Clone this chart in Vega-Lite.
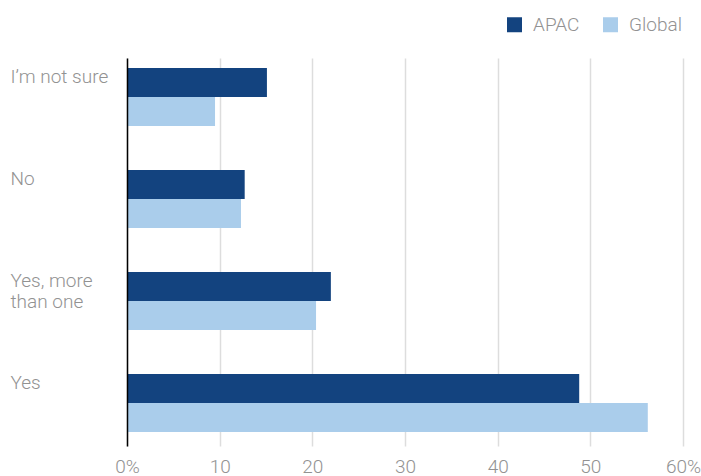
{
  "$schema": "https://vega.github.io/schema/vega-lite/v6.json",
  "width": 556,
  "height": 388,
  "autosize": {"type": "none"},
  "padding": {"left": 127, "top": 58, "right": 18, "bottom": 30},
  "background": "white",
  "config": {"view": {"stroke": null}, "font": "Roboto"},
  "data": {
    "values": [
      {"answer": "I’m not sure", "region": "APAC", "value": 15.1},
      {"answer": "I’m not sure", "region": "Global", "value": 9.5},
      {"answer": "No", "region": "APAC", "value": 12.7},
      {"answer": "No", "region": "Global", "value": 12.3},
      {"answer": "Yes, more than one", "region": "APAC", "value": 22.0},
      {"answer": "Yes, more than one", "region": "Global", "value": 20.4},
      {"answer": "Yes", "region": "APAC", "value": 48.8},
      {"answer": "Yes", "region": "Global", "value": 56.2}
    ]
  },
  "mark": {"type": "bar"},
  "encoding": {
    "y": {
      "field": "answer",
      "type": "nominal",
      "sort": ["I’m not sure", "No", "Yes, more than one", "Yes"],
      "scale": {"paddingInner": 0.431, "paddingOuter": 0.1176, "align": 0.417},
      "axis": {
        "title": null,
        "zindex": 1,
        "domain": true,
        "domainColor": "#000000",
        "domainWidth": 1.5,
        "ticks": false,
        "tickSize": 0,
        "grid": false,
        "labelAlign": "left",
        "labelBaseline": "top",
        "labelPadding": 117,
        "labelOffset": -29,
        "labelFontSize": 19,
        "labelFontWeight": 300,
        "labelColor": "#929292",
        "labelLineHeight": 21,
        "labelExpr": "datum.label == 'Yes, more than one' ? ['Yes, more', 'than one'] : datum.label"
      }
    },
    "yOffset": {
      "field": "region",
      "type": "nominal",
      "sort": ["APAC", "Global"],
      "scale": {"paddingInner": 0, "paddingOuter": 0}
    },
    "x": {
      "field": "value",
      "type": "quantitative",
      "scale": {"domain": [0, 60], "nice": false},
      "axis": {
        "title": null,
        "zindex": 0,
        "values": [0, 10, 20, 30, 40, 50, 60],
        "domain": false,
        "ticks": false,
        "grid": true,
        "gridColor": "#dddddd",
        "gridWidth": 1.5,
        "labelFlush": false,
        "labelPadding": 11,
        "labelBaseline": "top",
        "labelFontSize": 19,
        "labelFontWeight": 300,
        "labelColor": "#929292",
        "labelExpr": "datum.value == 0 || datum.value == 60 ? datum.value + '%' : datum.value + ''"
      }
    },
    "color": {
      "field": "region",
      "type": "nominal",
      "sort": ["APAC", "Global"],
      "scale": {"domain": ["APAC", "Global"], "range": ["#13437f", "#aacdeb"]},
      "legend": {
        "title": null,
        "orient": "none",
        "direction": "horizontal",
        "legendX": 378,
        "legendY": -43,
        "symbolType": "square",
        "symbolSize": 225,
        "symbolStrokeWidth": 0,
        "labelFontSize": 19,
        "labelFontWeight": 300,
        "labelColor": "#929292",
        "labelOffset": 9,
        "columnPadding": 21
      }
    }
  }
}
